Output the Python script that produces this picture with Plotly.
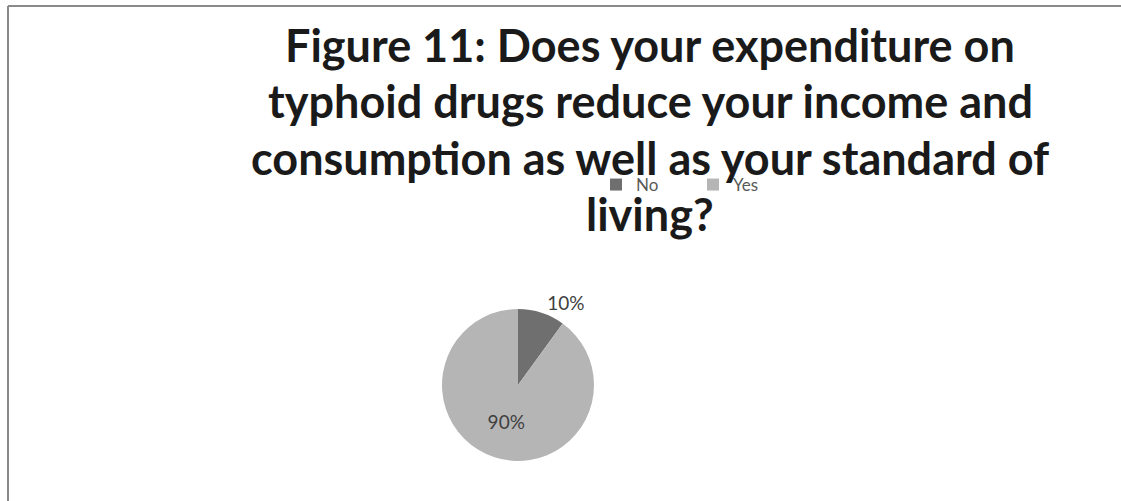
import plotly.graph_objects as go

categories = ["No", "Yes"]
values = [10, 90]
colors = ["#6f6f6f", "#b5b5b5"]
title_lines = [
    "Figure 11: Does your expenditure on",
    "typhoid drugs reduce your income and",
    "consumption as well as your standard of",
    "living?",
]

W, H = 1121, 501
cx, cy, r = 518, 385, 76

fig = go.Figure()
fig.add_trace(go.Pie(
    labels=categories,
    values=values,
    marker=dict(colors=colors, line=dict(width=0)),
    sort=False,
    direction="clockwise",
    rotation=0,
    textinfo="percent",
    texttemplate="%{percent:.0%}",
    textposition=["outside", "inside"],
    insidetextfont=dict(color="#404040", size=19, family="Lato"),
    outsidetextfont=dict(color="#404040", size=19, family="Lato"),
    automargin=False,
    domain=dict(x=[(cx - r) / W, (cx + r) / W], y=[(H - cy - r) / H, (H - cy + r) / H]),
    hoverinfo="label+percent",
))

line_y = [45, 101, 158, 214]
for txt, yy in zip(title_lines, line_y):
    fig.add_annotation(
        text="<b>" + txt + "</b>", x=650 / W, y=1 - yy / H, xref="paper", yref="paper",
        xanchor="center", yanchor="middle", showarrow=False,
        font=dict(family="Lato", size=45, color="#1a1a1a"),
    )

fig.add_shape(type="line", xref="paper", yref="paper", x0=8 / W, x1=1, y0=1 - 6 / H, y1=1 - 6 / H,
              line=dict(color="#8a8a8a", width=2))
fig.add_shape(type="line", xref="paper", yref="paper", x0=8 / W, x1=8 / W, y0=0, y1=1 - 6 / H,
              line=dict(color="#8a8a8a", width=2))

fig.update_layout(
    width=W, height=H,
    margin=dict(l=0, r=0, t=0, b=0),
    paper_bgcolor="white",
    plot_bgcolor="white",
    showlegend=True,
    legend=dict(orientation="h", x=596 / W, y=1 - 185 / H, xanchor="left", yanchor="middle",
                font=dict(family="Lato", size=17, color="#595959"),
                bgcolor="rgba(0,0,0,0)", entrywidth=52, entrywidthmode="pixels",
                itemwidth=30),
)

fig.write_html("out.html")
